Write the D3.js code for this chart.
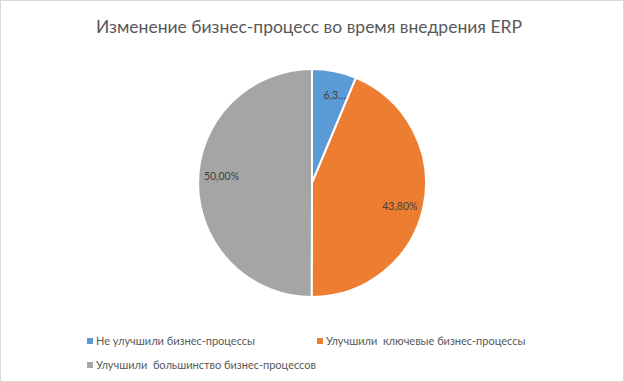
<!DOCTYPE html>
<html><head><meta charset="utf-8">
<script src="https://cdn.jsdelivr.net/npm/d3@7"></script>
<style>body{margin:0;background:#fff}svg{display:block}</style>
</head><body>
<script>
const title = "Изменение бизнес-процесс во время внедрения ERP";
const categories = ["Не улучшили бизнес-процессы", "Улучшили  ключевые бизнес-процессы", "Улучшили  большинство бизнес-процессов"];
const values = [6.3, 43.8, 50.0];
const labels = ["6,3…", "43,80%", "50,00%"];
const colors = ["#5B9BD5", "#ED7D31", "#A5A5A5"];

const W = 624, H = 382;
const font = "Lato, 'Open Sans', sans-serif";
const svg = d3.select("body").append("svg").attr("width", W).attr("height", H);
svg.append("rect").attr("x", 0.5).attr("y", 0.5).attr("width", W - 1).attr("height", H - 1)
  .attr("fill", "#fff").attr("stroke", "#D9D9D9");

svg.append("text").attr("x", 309).attr("y", 33).attr("text-anchor", "middle")
  .attr("font-family", font).attr("font-size", 17.5).attr("fill", "#595959").text(title);

const cx = 312, cy = 183, r = 114;
const pie = d3.pie().sort(null).value(d => d)(values);
const arc = d3.arc().innerRadius(0).outerRadius(r);
const g = svg.append("g").attr("transform", `translate(${cx},${cy})`);
g.selectAll("path").data(pie).join("path").attr("d", arc)
  .attr("fill", (d, i) => colors[i]).attr("stroke", "#fff").attr("stroke-width", 2);

const lblArc = d3.arc().innerRadius(r * 0.75).outerRadius(r * 0.75);
const offs = [[6, -4], [4, 6], [-5, -7]];
g.selectAll("text").data(pie).join("text")
  .attr("transform", (d, i) => { const c = lblArc.centroid(d); return `translate(${c[0] + offs[i][0]},${c[1] + offs[i][1]})`; })
  .attr("text-anchor", "middle").attr("dy", "0.35em")
  .attr("font-family", font).attr("font-size", 10.5).attr("fill", "#404040")
  .text((d, i) => labels[i]);

const legPos = [[87, 341], [317, 341], [87, 365]];
const leg = svg.append("g");
categories.forEach((c, i) => {
  leg.append("rect").attr("x", legPos[i][0]).attr("y", legPos[i][1] - 3).attr("width", 6).attr("height", 6).attr("fill", colors[i]);
  leg.append("text").attr("x", legPos[i][0] + 9).attr("y", legPos[i][1]).attr("dy", "0.35em")
    .attr("font-family", font).attr("font-size", 11).attr("fill", "#595959")
    .attr("xml:space", "preserve").style("white-space", "pre").text(c);
});
</script>
</body></html>
